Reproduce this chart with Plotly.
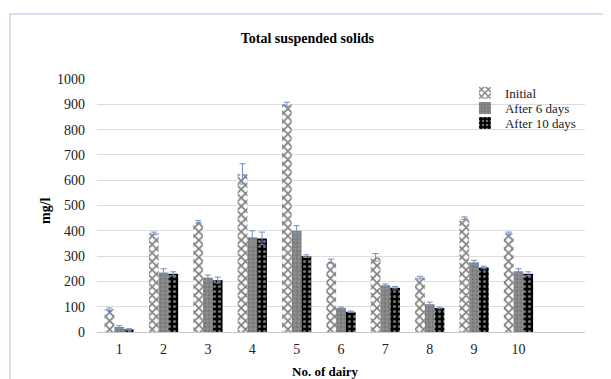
import plotly.graph_objects as go

dairies = ["1", "2", "3", "4", "5", "6", "7", "8", "9", "10"]
initial = [90, 390, 435, 625, 900, 280, 295, 215, 450, 390]
after6 = [20, 235, 215, 375, 400, 95, 185, 110, 275, 240]
after10 = [10, 230, 205, 370, 300, 80, 175, 95, 255, 230]
err_initial = [5, 5, 5, 40, 8, 8, 15, 5, 5, 5]
err_after6 = [5, 15, 10, 25, 20, 3, 5, 8, 8, 10]
err_after10 = [3, 8, 12, 25, 5, 3, 5, 3, 5, 8]

FONT = "Liberation Serif, Times New Roman, serif"
ERRC = "#6f8fc7"

fig = go.Figure()
fig.add_trace(go.Bar(
    x=dairies, y=initial, name="Initial", legend="legend",
    marker=dict(color="white", line=dict(width=0),
                pattern=dict(shape="x", fgcolor="black", bgcolor="white", size=6, solidity=0.5)),
    error_y=dict(type="data", array=err_initial, color=ERRC, thickness=1, width=3),
))
fig.add_trace(go.Bar(
    x=dairies, y=after6, name="After 6 days", legend="legend2",
    marker=dict(color="#8c8c8c", line=dict(width=0),
                pattern=dict(shape="+", fgcolor="#bdbdbd", bgcolor="#7a7a7a", size=4, solidity=0.3)),
    error_y=dict(type="data", array=err_after6, color=ERRC, thickness=1, width=3),
))
fig.add_trace(go.Bar(
    x=dairies, y=after10, name="After 10 days", legend="legend3",
    marker=dict(color="black", line=dict(width=0),
                pattern=dict(shape=".", fgcolor="#e0e0e0", bgcolor="black", size=5, solidity=0.3)),
    error_y=dict(type="data", array=err_after10, color=ERRC, thickness=1, width=3),
))

leg_common = dict(x=0.754, xanchor="left", yanchor="middle",
                  font=dict(family=FONT, size=13, color="#222"),
                  bgcolor="rgba(0,0,0,0)", itemwidth=30)

fig.update_layout(
    width=611, height=379,
    margin=dict(l=89, r=34, t=71, b=55, autoexpand=False),
    paper_bgcolor="white", plot_bgcolor="white",
    barmode="group", bargap=0.34, bargroupgap=0,
    font=dict(family=FONT, size=14, color="#222"),
    title=dict(text="<b>Total suspended solids</b>", x=0.49, xref="container", xanchor="center",
               y=1 - 30 / 379, yref="container", yanchor="middle",
               font=dict(family=FONT, size=14, color="black")),
    legend=dict(y=0.945, **leg_common),
    legend2=dict(y=0.885, **leg_common),
    legend3=dict(y=0.826, **leg_common),
    showlegend=True,
)
fig.update_xaxes(
    type="category", range=[-0.5, 10.5], automargin=False,
    showgrid=False, showline=False, ticks="", ticklabelstandoff=7,
    tickfont=dict(family=FONT, size=14, color="#222"),
)
fig.update_yaxes(
    range=[0, 1000], dtick=100, automargin=False,
    showgrid=True, gridcolor="#dcdcdc", gridwidth=1,
    zeroline=True, zerolinecolor="#c8c8c8", zerolinewidth=1,
    showline=False, ticks="", ticklabelstandoff=11,
    tickfont=dict(family=FONT, size=14, color="#222"),
)

fig.add_annotation(text="<b>mg/l</b>", xref="paper", yref="paper",
                   x=-0.1066, y=0.482, textangle=-90, showarrow=False,
                   xanchor="center", yanchor="middle",
                   font=dict(family=FONT, size=14, color="black"))
fig.add_annotation(text="<b>No. of dairy</b>", xref="paper", yref="paper",
                   x=0.469, y=-0.158, showarrow=False,
                   xanchor="center", yanchor="middle",
                   font=dict(family=FONT, size=13, color="black"))

# light chart border (top and left visible in reference)
x_left = (2 - 89) / 488
y_top = 1 + (71 - 6) / 253
fig.add_shape(type="rect", xref="paper", yref="paper",
              x0=x_left, x1=1.2, y0=-0.5, y1=y_top,
              line=dict(color="#c9d6ea", width=1.5), fillcolor="rgba(0,0,0,0)", layer="below")

fig.write_html("out.html")
